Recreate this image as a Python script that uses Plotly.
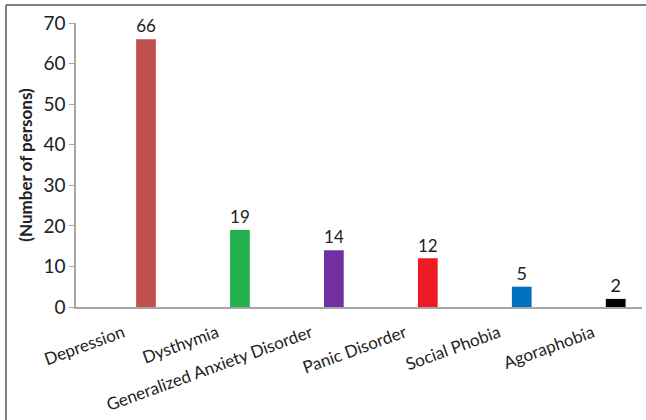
import plotly.graph_objects as go

# Disorder categories and number of persons in each
disorders = ["Depression", "Dysthymia", "Generalized Anxiety Disorder",
             "Panic Disorder", "Social Phobia", "Agoraphobia"]
persons = [66, 19, 14, 12, 5, 2]
bar_colors = ["#C0504D", "#22B14C", "#7030A0", "#ED1C24", "#0070C0", "#000000"]
y_ticks = [0, 10, 20, 30, 40, 50, 60, 70]

FONT = "Lato, Carlito, 'Open Sans', sans-serif"

fig = go.Figure(
    go.Bar(
        x=list(range(len(disorders))),
        y=persons,
        marker=dict(color=bar_colors, line=dict(width=0)),
        width=0.21,
        text=[str(v) for v in persons],
        textposition="outside",
        cliponaxis=False,
        textfont=dict(family=FONT, size=18, color="#222222"),
    )
)

fig.update_layout(
    width=646,
    height=420,
    margin=dict(l=76, r=4, t=23, b=113),
    paper_bgcolor="white",
    plot_bgcolor="white",
    showlegend=False,
    font=dict(family=FONT, color="#222222"),
    xaxis=dict(
        tickmode="array",
        tickvals=list(range(len(disorders))),
        ticktext=disorders,
        range=[-0.745, 5.28],
        tickangle=-20,
        ticks="",
        ticklabelshift=-23,
        ticklabelstandoff=8,
        tickfont=dict(family=FONT, size=17, color="#222222"),
        showline=True,
        linecolor="#A6A6A6",
        linewidth=1.5,
        showgrid=False,
        zeroline=False,
    ),
    yaxis=dict(
        range=[0, 70],
        tickvals=y_ticks,
        ticks="outside",
        ticklen=5,
        tickcolor="#A6A6A6",
        tickfont=dict(family=FONT, size=19, color="#222222"),
        showline=True,
        linecolor="#A6A6A6",
        linewidth=1.5,
        showgrid=False,
        zeroline=False,
        title=dict(text="<b>(Number of persons)</b>",
                   font=dict(family=FONT, size=17, color="#222222"),
                   standoff=6),
    ),
    shapes=[
        # frame around the figure (left and top edges)
        dict(type="line", xref="paper", yref="paper",
             x0=-0.1237, x1=-0.1237, y0=1.0634, y1=-0.42,
             line=dict(color="#808080", width=2)),
        dict(type="line", xref="paper", yref="paper",
             x0=-0.1237, x1=1.01, y0=1.0634, y1=1.0634,
             line=dict(color="#808080", width=2)),
    ],
)

fig.write_html("out.html")
